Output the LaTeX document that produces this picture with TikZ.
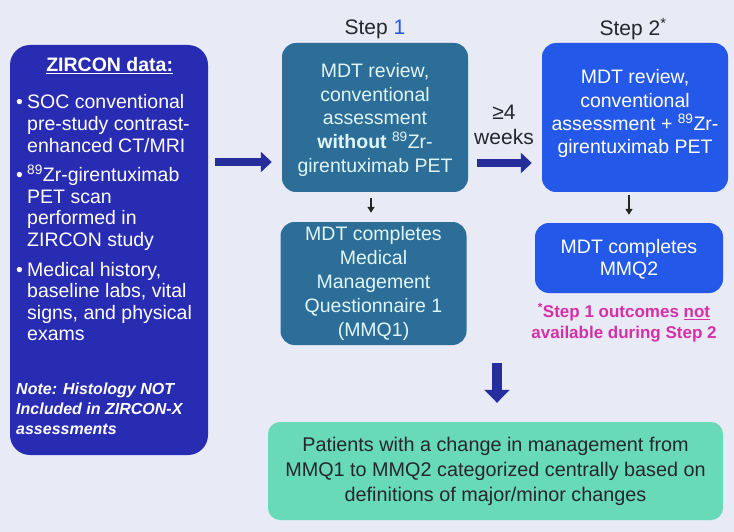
\documentclass[tikz,border=0pt]{standalone}
\usepackage{fontspec}
\setmainfont{Liberation Sans}
\usetikzlibrary{arrows.meta}
\definecolor{bg}{RGB}{232,234,246}
\definecolor{zblue}{RGB}{40,44,178}
\definecolor{tealbox}{RGB}{44,110,152}
\definecolor{bluebox}{RGB}{36,88,232}
\definecolor{mint}{RGB}{104,218,184}
\definecolor{navy}{RGB}{38,46,156}
\definecolor{pinktxt}{RGB}{214,48,168}
\definecolor{darktxt}{RGB}{38,38,46}
\definecolor{lighttxt}{RGB}{224,245,246}
\newcommand{\zrsup}{\smash{\textsuperscript{89}}}
\begin{document}
\begin{tikzpicture}[x=1pt,y=-1pt,
  basebox/.style={rounded corners=14pt, inner sep=0pt, align=center},
  zbox/.style={basebox, rounded corners=20pt, fill=zblue, minimum width=198pt, minimum height=410pt},
  ztext/.style={inner sep=0pt, text=white, font=\fontsize{19.5}{21.6}\selectfont},
  tealstyle/.style={basebox, fill=tealbox, text=lighttxt, minimum width=186pt, font=\fontsize{19.5}{23.6}\selectfont},
  bluestyle/.style={basebox, fill=bluebox, text=white, minimum width=187pt, font=\fontsize{19.5}{23.3}\selectfont},
  greenstyle/.style={basebox, rounded corners=12pt, fill=mint, text=darktxt, minimum width=455pt, minimum height=98pt, font=\fontsize{19.8}{25}\selectfont},
  steplabel/.style={inner sep=0pt, text=darktxt, font=\fontsize{21}{24}\selectfont},
  blockarrow/.style={draw=navy, line width=8pt, -{Triangle[width=20pt,length=11pt]}},
  bigblock/.style={draw=navy, line width=10pt, -{Triangle[width=25pt,length=13pt]}},
  thinarrow/.style={draw=black!85, line width=1.6pt, -{Triangle[width=7pt,length=6pt]}},
  note/.style={inner sep=0pt, align=center, text=pinktxt, font=\bfseries\fontsize{17}{21}\selectfont},
  weeks/.style={inner sep=0pt, align=center, text=darktxt, font=\fontsize{21}{25}\selectfont}
]
\fill[bg] (0,0) rectangle (734,532);
\useasboundingbox (0,0) rectangle (734,532);

% left data box
\node[zbox] (zircon) at (109,250) {};
\node[ztext, anchor=north west] (ztxt) at (16,56) {%
\begin{tabular}{@{}p{11pt}@{}p{176pt}@{}}
\multicolumn{2}{@{}c@{}}{\bfseries\underline{ZIRCON data:}}\\[16pt]
\textbullet & SOC conventional\\
 & pre-study contrast-\\
 & enhanced CT/MRI\\[8pt]
\textbullet & \zrsup Zr-girentuximab\\
 & PET scan\\
 & performed in\\
 & ZIRCON study\\[8pt]
\textbullet & Medical history,\\
 & baseline labs, vital\\
 & signs, and physical\\
 & exams\\[32pt]
\multicolumn{2}{@{}l@{}}{\bfseries\itshape\fontsize{16}{20}\selectfont Note: Histology NOT}\\[-1.5pt]
\multicolumn{2}{@{}l@{}}{\bfseries\itshape\fontsize{16}{20}\selectfont Included in ZIRCON-X}\\[-1.5pt]
\multicolumn{2}{@{}l@{}}{\bfseries\itshape\fontsize{16}{20}\selectfont assessments}
\end{tabular}};

% step labels
\node[steplabel] (lab1) at (375,29) {Step \textcolor{bluebox}{1}};
\node[steplabel] (lab2) at (633,29) {Step 2\textsuperscript{*}};

% step 1
\node[tealstyle, minimum height=149pt] (s1) at (375,117.5)
  {\rule{0pt}{19pt}\\[-23.6pt]MDT review,\\conventional\\assessment\\\textbf{without} \zrsup Zr-\\girentuximab PET};
\node[tealstyle, minimum height=123pt, font=\fontsize{19.5}{23.8}\selectfont] (mmq1) at (373.5,283.5)
  {MDT completes\\Medical\\Management\\Questionnaire 1\\(MMQ1)};

% step 2
\node[bluestyle, minimum width=186pt, minimum height=149pt] (s2) at (635,117.5)
  {MDT review,\\conventional\\assessment + \zrsup Zr-\\girentuximab PET\\[-12pt]\mbox{}};
\node[bluestyle, minimum width=188pt, minimum height=70pt, font=\fontsize{19.5}{21.5}\selectfont] (mmq2) at (629,258)
  {\rule{0pt}{17pt}\\[-21.5pt]MDT completes\\MMQ2};

% footnote
\node[note] (foot) at (624,323)
  {\textsuperscript{*}Step 1 outcomes \underline{not}\\available during Step 2};

% weeks label
\node[weeks] (wk) at (504,124.5) {≥4\\weeks};

% final box
\node[greenstyle] (green) at (495.5,471)
  {Patients with a change in management from\\MMQ1 to MMQ2 categorized centrally based on\\definitions of major/minor changes};

% connectors
\path ([yshift=-44.5pt]s1.west) coordinate (s1in);
\path ([yshift=-45.5pt]s2.west) coordinate (s2in);
\draw[blockarrow, shorten <=7pt, shorten >=10pt] (s1in -| zircon.east) -- (s1in);
\draw[blockarrow, shorten <=9pt, shorten >=10pt] (s2in -| s1.east) -- (s2in);
\draw[thinarrow, shorten <=6pt, shorten >=9pt] ([xshift=-4pt]s1.south) -- ([xshift=-4pt]s1.south |- mmq1.north);
\draw[thinarrow, line width=2.2pt, shorten <=3pt, shorten >=8pt] ([xshift=-6pt]s2.south) -- ([xshift=-6pt]s2.south |- mmq2.north);
\path ([xshift=1.5pt,yshift=59pt]green.north) coordinate (bigtop);
\draw[bigblock, shorten >=19pt] (bigtop) -- (bigtop |- green.north);
\end{tikzpicture}
\end{document}
